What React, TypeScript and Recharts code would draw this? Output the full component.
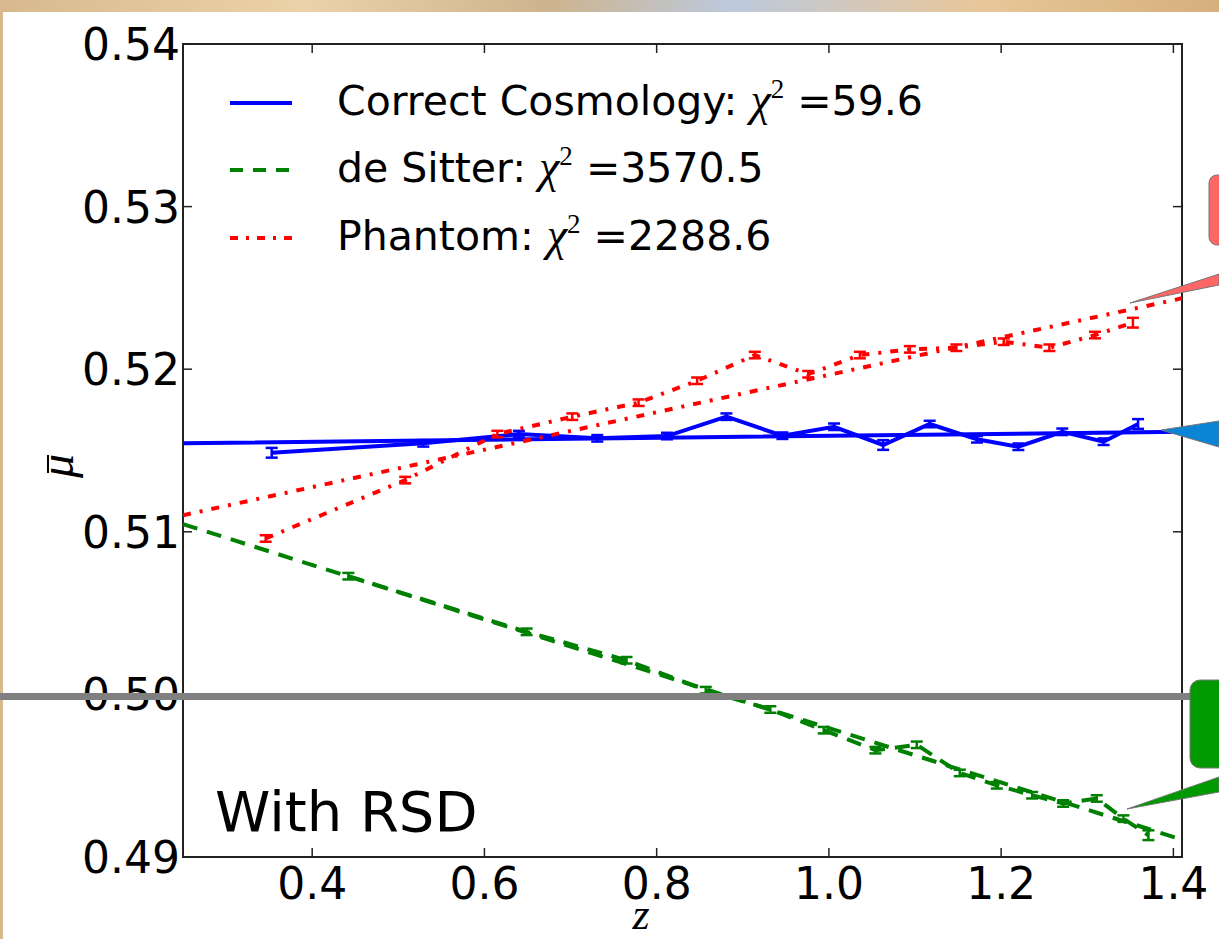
import React from 'react';
import { LineChart, Line, XAxis, YAxis, ErrorBar, Legend, ReferenceArea } from 'recharts';

const correctZ = [0.353, 0.529, 0.64, 0.731, 0.812, 0.881, 0.946, 1.006, 1.063, 1.117, 1.172, 1.22, 1.271, 1.319, 1.359];
const correctMu = [0.51486, 0.51544, 0.51601, 0.51575, 0.51589, 0.51708, 0.51591, 0.51646, 0.51534, 0.51663, 0.51569, 0.51523, 0.51615, 0.51554, 0.51663];
const correctErr = [0.0003, 0.0002, 0.0002, 0.0002, 0.0002, 0.0002, 0.0002, 0.0002, 0.0003, 0.0002, 0.0002, 0.0002, 0.0002, 0.0002, 0.0003];

const sitterZ = [0.442, 0.649, 0.765, 0.857, 0.932, 0.994, 1.054, 1.102, 1.152, 1.195, 1.236, 1.272, 1.311, 1.342, 1.371];
const sitterMu = [0.50727, 0.50385, 0.5021, 0.50026, 0.49907, 0.4978, 0.49657, 0.4969, 0.49517, 0.49441, 0.4938, 0.49329, 0.4936, 0.49236, 0.49134];
const sitterErr = [0.0002, 0.0002, 0.0002, 0.0002, 0.0002, 0.0002, 0.0002, 0.0002, 0.0002, 0.0002, 0.0002, 0.0002, 0.0002, 0.0002, 0.0003];

const phantomZ = [0.346, 0.508, 0.615, 0.702, 0.779, 0.847, 0.914, 0.976, 1.036, 1.094, 1.148, 1.203, 1.256, 1.309, 1.353];
const phantomMu = [0.50959, 0.51318, 0.51601, 0.51708, 0.51794, 0.51929, 0.52087, 0.51969, 0.52087, 0.52122, 0.52132, 0.52169, 0.52132, 0.5221, 0.52286];
const phantomErr = [0.0002, 0.0002, 0.0002, 0.0002, 0.0002, 0.0002, 0.0002, 0.0002, 0.0002, 0.0002, 0.0002, 0.0002, 0.0002, 0.0002, 0.0003];

// model curves
const correctModelZ = [0.25, 0.83, 1.41];
const correctModelMu = [0.51544, 0.5158, 0.51615];
const sitterModelZ = [0.25, 0.83, 1.41];
const sitterModelMu = [0.51047, 0.50077, 0.49107];
const phantomModelZ = [0.25, 0.83, 1.41];
const phantomModelMu = [0.51102, 0.5177, 0.52436];

const xTicks = [0.4, 0.6, 0.8, 1.0, 1.2, 1.4];
const yTicks = [0.49, 0.5, 0.51, 0.52, 0.53, 0.54];

const legendNames = ['Correct Cosmology', 'de Sitter', 'Phantom'];
const legendChi = ['59.6', '3570.5', '2288.6'];

const BLUE = '#0000ff';
const GREEN = '#008000';
const RED = '#ff0000';
const legendColors = [BLUE, GREEN, RED];
const legendDash = [undefined, '13 10', '8 8 3 8'];

const PLOT_L = 183;
const PLOT_R = 1182;
const PLOT_T = 44;
const PLOT_B = 857;

const toRows = (z: number[], mu: number[], err?: number[]) =>
  z.map((v, i) => ({ z: v, mu: mu[i], err: err ? err[i] : 0 }));

const correctData = toRows(correctZ, correctMu, correctErr);
const sitterData = toRows(sitterZ, sitterMu, sitterErr);
const phantomData = toRows(phantomZ, phantomMu, phantomErr);
const correctModel = toRows(correctModelZ, correctModelMu);
const sitterModel = toRows(sitterModelZ, sitterModelMu);
const phantomModel = toRows(phantomModelZ, phantomModelMu);

const tickFont = { fontFamily: '"DejaVu Sans", sans-serif', fontSize: 44, fill: '#000' };

const XTick = (props: any) => {
  const { x, payload } = props;
  return (
    <g>
      <line x1={x} x2={x} y1={PLOT_B} y2={PLOT_B - 9} stroke="#222" strokeWidth={1.5} />
      <line x1={x} x2={x} y1={PLOT_T} y2={PLOT_T + 9} stroke="#222" strokeWidth={1.5} />
      <text x={x} y={PLOT_B + 42} textAnchor="middle" {...tickFont}>
        {Number(payload.value).toFixed(1)}
      </text>
    </g>
  );
};

const YTick = (props: any) => {
  const { y, payload } = props;
  return (
    <g>
      <line x1={PLOT_L} x2={PLOT_L + 9} y1={y} y2={y} stroke="#222" strokeWidth={1.5} />
      <line x1={PLOT_R - 9} x2={PLOT_R} y1={y} y2={y} stroke="#222" strokeWidth={1.5} />
      <text x={PLOT_L - 3} y={y + 16} textAnchor="end" {...tickFont}>
        {Number(payload.value).toFixed(2)}
      </text>
    </g>
  );
};

const renderLegend = () => (
  <div style={{ fontFamily: '"DejaVu Sans", sans-serif', fontSize: 41, color: '#000' }}>
    {legendNames.map((name, i) => (
      <div key={name} style={{ display: 'flex', alignItems: 'center', height: 67.5 }}>
        <svg width={62} height={10} style={{ display: 'block' }}>
          <line x1={0} x2={62} y1={5} y2={5} stroke={legendColors[i]} strokeWidth={4} strokeDasharray={legendDash[i]} />
        </svg>
        <span style={{ marginLeft: 45, whiteSpace: 'nowrap', lineHeight: '67.5px' }}>
          {name}:{' '}
          <span style={{ fontFamily: '"Liberation Serif", serif', fontStyle: 'italic', fontSize: 46 }}>χ</span>
          <span style={{ fontFamily: '"Liberation Serif", serif', fontSize: 27, position: 'relative', top: -17 }}>2</span>
          {' ='}
          {legendChi[i]}
        </span>
      </div>
    ))}
  </div>
);

const App: React.FC = () => {
  return (
    <div
      style={{
        position: 'absolute',
        left: 0,
        top: 0,
        width: 1219,
        height: 939,
        overflow: 'hidden',
        background: 'linear-gradient(90deg, #d8b98e 0%, #ecd2a8 25%, #cdb48e 45%, #bcc9dd 60%, #e8c79a 80%, #d6b07c 100%)',
      }}
    >
      <div style={{ position: 'absolute', left: 3, top: 12, right: 0, bottom: 0, background: '#fff' }} />
      <div style={{ position: 'absolute', left: 0, top: 0 }}>
        <LineChart width={1219} height={939} margin={{ top: PLOT_T, right: 1219 - PLOT_R, bottom: 0, left: 0 }}>
          <XAxis
            dataKey="z"
            type="number"
            domain={[0.25, 1.41]}
            ticks={xTicks}
            allowDataOverflow
            height={939 - PLOT_B}
            axisLine={false}
            tickLine={false}
            tick={<XTick />}
            interval={0}
          />
          <YAxis
            type="number"
            domain={[0.49, 0.54]}
            ticks={yTicks}
            allowDataOverflow
            width={PLOT_L}
            axisLine={false}
            tickLine={false}
            tick={<YTick />}
            interval={0}
          />
          <Legend
            content={renderLegend}
            layout="horizontal"
            verticalAlign="middle"
            align="center"
            wrapperStyle={{ left: 230, top: 69, width: 'auto', height: 'auto' }}
          />
          <Line data={correctModel} dataKey="mu" type="linear" stroke={BLUE} strokeWidth={4} dot={false} isAnimationActive={false} />
          <Line data={correctData} dataKey="mu" type="linear" stroke={BLUE} strokeWidth={4} dot={false} isAnimationActive={false}>
            <ErrorBar dataKey="err" direction="y" width={6} strokeWidth={2.5} stroke={BLUE} isAnimationActive={false} />
          </Line>
          <Line data={sitterModel} dataKey="mu" type="linear" stroke={GREEN} strokeWidth={4} strokeDasharray="15 10" dot={false} isAnimationActive={false} />
          <Line data={sitterData} dataKey="mu" type="linear" stroke={GREEN} strokeWidth={4} strokeDasharray="15 10" dot={false} isAnimationActive={false}>
            <ErrorBar dataKey="err" direction="y" width={6} strokeWidth={2.5} stroke={GREEN} isAnimationActive={false} />
          </Line>
          <Line data={phantomModel} dataKey="mu" type="linear" stroke={RED} strokeWidth={4} strokeDasharray="8 9 3 9" dot={false} isAnimationActive={false} />
          <Line data={phantomData} dataKey="mu" type="linear" stroke={RED} strokeWidth={4} strokeDasharray="8 9 3 9" dot={false} isAnimationActive={false}>
            <ErrorBar dataKey="err" direction="y" width={6} strokeWidth={2.5} stroke={RED} isAnimationActive={false} />
          </Line>
          <ReferenceArea x1={0.25} x2={1.41} y1={0.49} y2={0.54} fill="none" stroke="#222" strokeWidth={2} ifOverflow="visible" />
        </LineChart>
      </div>
      {/* slide decorations on top of the figure */}
      <svg width={1219} height={939} style={{ position: 'absolute', left: 0, top: 0, pointerEvents: 'none' }}>
        <text x={215} y={831} fontFamily='"DejaVu Sans", sans-serif' fontSize={56} fill="#000">With RSD</text>
        <text x={641} y={929} textAnchor="middle" fontFamily='"Liberation Serif", serif' fontStyle="italic" fontSize={44} fill="#000">z</text>
        <g transform="translate(73,466) rotate(-90)">
          <text x={0} y={0} textAnchor="middle" fontFamily='"Liberation Serif", serif' fontStyle="italic" fontSize={48} fill="#000">μ</text>
          <line x1={-7} x2={11} y1={-25} y2={-25} stroke="#000" strokeWidth={2} />
        </g>
        <rect x={0} y={693} width={1192} height={7} fill="#808080" />
        <path d="M1130,303 L1219,274 L1219,285 Z" fill="#ff6666" stroke="#777" strokeWidth={1} />
        <rect x={1209} y={175} width={30} height={70} rx={8} fill="#ff6666" stroke="#777" strokeWidth={1} />
        <path d="M1161,430 L1219,421 L1219,447 Z" fill="#0a84d4" stroke="#777" strokeWidth={1} />
        <path d="M1127,809 L1219,777 L1219,792 Z" fill="#009900" stroke="#777" strokeWidth={1} />
        <rect x={1190} y={680} width={40} height={88} rx={10} fill="#009900" stroke="#777" strokeWidth={1} />
      </svg>
    </div>
  );
};

export default App;
